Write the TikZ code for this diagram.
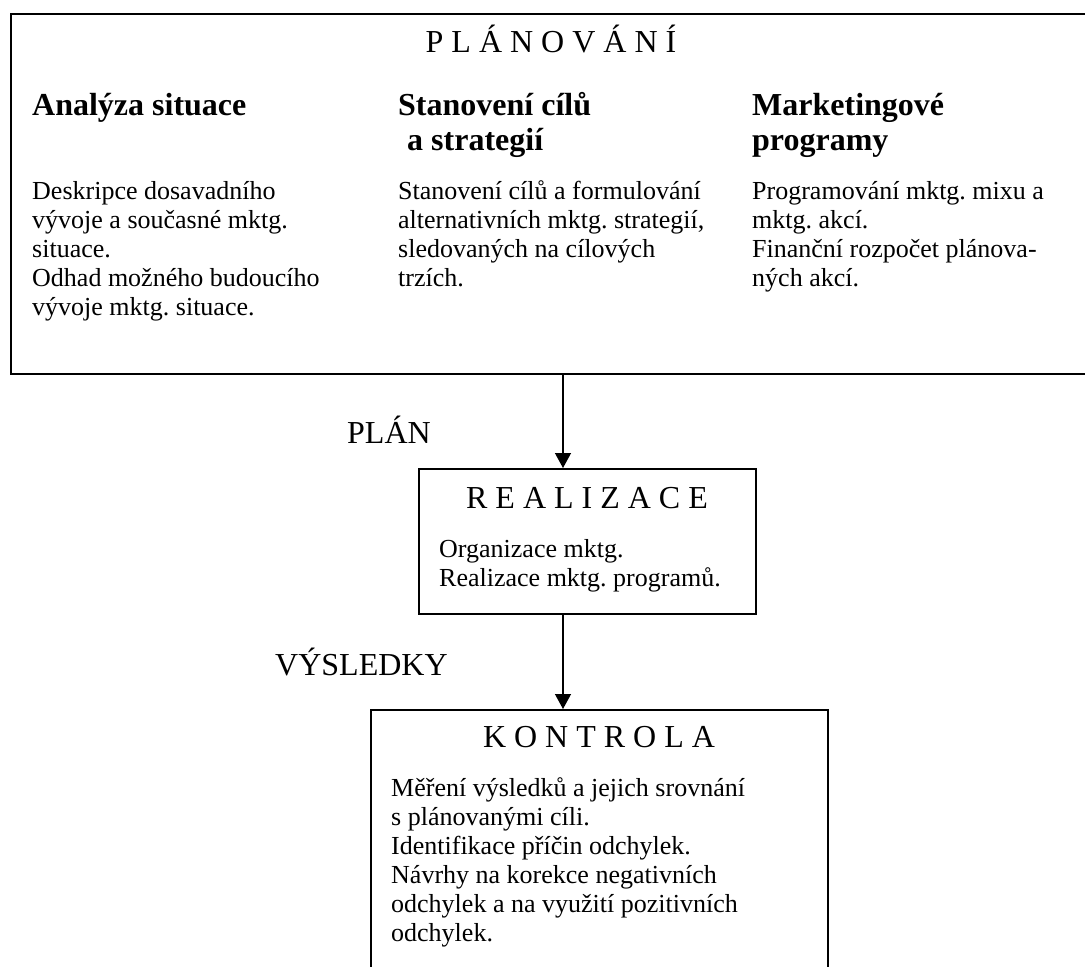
\documentclass[tikz,border=0pt]{standalone}
\usepackage{fontspec}
\setmainfont{Liberation Serif}
\usetikzlibrary{arrows.meta}
\frenchspacing
\newcommand{\bodyfont}{\fontsize{26}{29}\selectfont}
\newcommand{\headfont}{\fontsize{32}{35}\selectfont}
\newcommand{\txtblock}[2]{\parbox[t]{#1}{\raggedright #2}}
\begin{document}
\begin{tikzpicture}[x=1pt,y=-1pt,
  frame/.style={draw, line width=1.6pt, inner sep=0pt, anchor=north west},
  txt/.style={inner sep=0pt, anchor=base west},
  ctxt/.style={inner sep=0pt, anchor=base},
  arr/.style={line width=1.3pt, -{Triangle[width=16pt,length=15pt]}}]
\useasboundingbox (0,0) rectangle (1085,967);

% boxes
\node[frame, minimum width=1080pt, minimum height=360pt] (plan) at (10,13) {};
\node[frame, minimum width=337pt, minimum height=145pt] (real) at (418,468) {};
\node[frame, minimum width=457pt, minimum height=270pt] (kont) at (370,709) {};

% top box texts
\node[ctxt, font=\headfont] (tplan) at (551,52) {P L Á N O V Á N Í};
\node[txt] (h1) at (32,115) {\txtblock{340pt}{\headfont\bfseries Analýza situace}};
\node[txt] (h2) at (398,115) {\txtblock{340pt}{\headfont\bfseries Stanovení cílů\\\hspace*{9pt}a strategií}};
\node[txt] (h3) at (752,115) {\txtblock{320pt}{\headfont\bfseries Marketingové\\programy}};
\node[txt] (b1) at (32,199) {\txtblock{350pt}{\bodyfont Deskripce dosavadního\\vývoje a současné mktg.\\situace.\\Odhad možného budoucího\\vývoje mktg. situace.}};
\node[txt] (b2) at (398,199) {\txtblock{350pt}{\bodyfont Stanovení cílů a formulování\\alternativních mktg. strategií,\\sledovaných na cílových\\trzích.}};
\node[txt] (b3) at (752,199) {\txtblock{330pt}{\bodyfont Programování mktg. mixu a\\mktg. akcí.\\Finanční rozpočet plánova-\\ných akcí.}};

% realizace
\node[ctxt, font=\headfont] (treal) at (587,508) {R E A L I Z A C E};
\node[txt] (b4) at (439,557) {\txtblock{320pt}{\bodyfont Organizace mktg.\\Realizace mktg. programů.}};

% kontrola
\node[ctxt, font=\headfont] (tkont) at (599,747) {K O N T R O L A};
\node[txt] (b5) at (391,796) {\txtblock{430pt}{\bodyfont Měření výsledků a jejich srovnání\\s plánovanými cíli.\\Identifikace příčin odchylek.\\Návrhy na korekce negativních\\odchylek a na využití pozitivních\\odchylek.}};

% connector labels
\node[txt, font=\headfont] (lplan) at (347,443) {PLÁN};
\node[txt, font=\headfont] (lvys) at (275,675) {VÝSLEDKY};

% connectors
\coordinate (ax) at (563,0);
\draw[arr] (plan.south -| ax) -- (real.north -| ax);
\draw[arr] (real.south -| ax) -- (kont.north -| ax);
\end{tikzpicture}
\end{document}
